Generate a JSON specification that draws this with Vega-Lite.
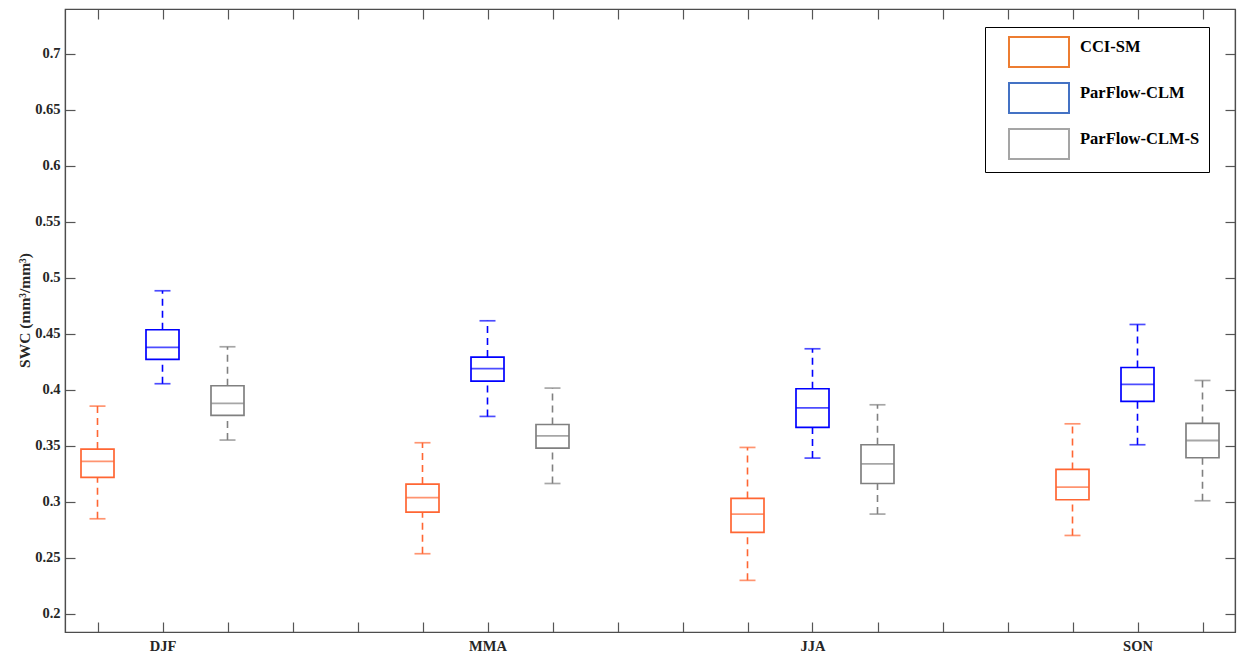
{
  "$schema": "https://vega.github.io/schema/vega-lite/v6.json",
  "width": 1170,
  "height": 623,
  "autosize": {"type": "none"},
  "padding": {"left": 65, "top": 9, "right": 4, "bottom": 24},
  "background": "white",
  "config": {
    "view": {"stroke": "#4d4d4d", "strokeWidth": 1.2},
    "axis": {"grid": false, "labelFont": "Liberation Serif", "labelFontWeight": "bold", "labelFontSize": 14.5, "labelColor": "#262626", "titleFont": "Liberation Serif", "titleFontWeight": "bold", "titleColor": "#262626", "domainColor": "#4d4d4d", "domainWidth": 1.2, "tickColor": "#555555", "tickWidth": 1.2}
  },
  "data": {
    "values": [
      {"season": "DJF", "model": "CCI-SM", "pos": 1, "lo": 0.2848, "q1": 0.3217, "med": 0.336, "q3": 0.347, "hi": 0.3854},
      {"season": "DJF", "model": "ParFlow-CLM", "pos": 2, "lo": 0.4054, "q1": 0.4271, "med": 0.4378, "q3": 0.4536, "hi": 0.4884},
      {"season": "DJF", "model": "ParFlow-CLM-S", "pos": 3, "lo": 0.3551, "q1": 0.3771, "med": 0.3878, "q3": 0.4036, "hi": 0.4384},
      {"season": "MMA", "model": "CCI-SM", "pos": 6, "lo": 0.2536, "q1": 0.2908, "med": 0.3036, "q3": 0.3158, "hi": 0.3527},
      {"season": "MMA", "model": "ParFlow-CLM", "pos": 7, "lo": 0.3762, "q1": 0.4077, "med": 0.4188, "q3": 0.4292, "hi": 0.4616},
      {"season": "MMA", "model": "ParFlow-CLM-S", "pos": 8, "lo": 0.3163, "q1": 0.3479, "med": 0.3589, "q3": 0.369, "hi": 0.4015},
      {"season": "JJA", "model": "CCI-SM", "pos": 11, "lo": 0.2298, "q1": 0.2726, "med": 0.289, "q3": 0.303, "hi": 0.3485},
      {"season": "JJA", "model": "ParFlow-CLM", "pos": 12, "lo": 0.339, "q1": 0.3664, "med": 0.3839, "q3": 0.4009, "hi": 0.4366},
      {"season": "JJA", "model": "ParFlow-CLM-S", "pos": 13, "lo": 0.289, "q1": 0.3163, "med": 0.3339, "q3": 0.3509, "hi": 0.3866},
      {"season": "SON", "model": "CCI-SM", "pos": 16, "lo": 0.2699, "q1": 0.3018, "med": 0.3131, "q3": 0.3289, "hi": 0.3696},
      {"season": "SON", "model": "ParFlow-CLM", "pos": 17, "lo": 0.3509, "q1": 0.3896, "med": 0.4048, "q3": 0.4199, "hi": 0.4583},
      {"season": "SON", "model": "ParFlow-CLM-S", "pos": 18, "lo": 0.3009, "q1": 0.3393, "med": 0.3547, "q3": 0.3699, "hi": 0.4083}
    ]
  },
  "resolve": {"axis": {"x": "independent", "y": "independent"}},
  "layer": [
    {
      "mark": {"type": "bar", "filled": false, "size": 33, "strokeWidth": 1.7},
      "encoding": {
        "x": {"field": "pos", "type": "quantitative", "scale": {"domain": [0.5, 18.5], "nice": false, "zero": false, "padding": 0},
              "axis": {"values": [1,2,3,4,5,6,7,8,9,10,11,12,13,14,15,16,17,18], "labelExpr": "datum.value == 2 ? 'DJF' : datum.value == 7 ? 'MMA' : datum.value == 12 ? 'JJA' : datum.value == 17 ? 'SON' : ''", "labelOverlap": false, "tickSize": -10, "labelPadding": 17, "title": null}},
        "y": {"field": "q1", "type": "quantitative", "scale": {"domain": [0.1837, 0.74], "nice": false, "zero": false, "padding": 0},
              "axis": {"values": [0.2, 0.25, 0.3, 0.35, 0.4, 0.45, 0.5, 0.55, 0.6, 0.65, 0.7], "format": ".2~f", "tickSize": -10, "labelPadding": 15, "title": "SWC (mm³/mm³)", "titleFontSize": 15.5, "titleX": -33, "titleY": 301, "titleAngle": -90}},
        "y2": {"field": "q3"},
        "color": {"field": "model", "type": "nominal",
                  "scale": {"range": ["#FF6633", "#0000FF", "#808080"]},
                  "legend": null}
      }
    },
    {
      "mark": {"type": "bar", "filled": false, "size": 33, "opacity": 0},
      "encoding": {
        "x": {"field": "pos", "type": "quantitative", "axis": null},
        "y": {"field": "q1", "type": "quantitative", "axis": null},
        "y2": {"field": "q3"},
        "stroke": {"field": "model", "type": "nominal",
                  "scale": {"domain": ["CCI-SM", "ParFlow-CLM", "ParFlow-CLM-S"], "range": ["#ED7D31", "#4472C4", "#A5A5A5"]},
                  "legend": {"title": null, "orient": "none", "legendX": 920, "legendY": 18, "padding": 9, "fillColor": "white", "strokeColor": "#000000", "symbolType": "M-2,-1H2V1H-2Z", "symbolSize": 900, "symbolOffset": 29, "rowPadding": 8, "labelOffset": 25, "labelFont": "Liberation Serif", "labelFontWeight": "bold", "labelFontSize": 16.5, "labelColor": "#000000", "labelBaseline": "alphabetic", "symbolStrokeWidth": 2, "symbolOpacity": 1, "symbolFillColor": "white",
                    "encode": {"legend": {"strokeWidth": {"value": 1.5}},
                               "symbols": {"fill": {"value": "white"}, "strokeWidth": {"value": 2}, "opacity": {"value": 1}}}}}
      }
    },
    {
      "mark": {"type": "rule", "strokeWidth": 1.6, "strokeDash": [7, 5]},
      "encoding": {
        "x": {"field": "pos", "type": "quantitative", "axis": null},
        "y": {"field": "lo", "type": "quantitative", "axis": null},
        "y2": {"field": "q1"},
        "color": {"field": "model", "type": "nominal", "legend": null}
      }
    },
    {
      "mark": {"type": "rule", "strokeWidth": 1.6, "strokeDash": [7, 5]},
      "encoding": {
        "x": {"field": "pos", "type": "quantitative", "axis": null},
        "y": {"field": "q3", "type": "quantitative", "axis": null},
        "y2": {"field": "hi"},
        "color": {"field": "model", "type": "nominal", "legend": null}
      }
    },
    {
      "mark": {"type": "tick", "orient": "horizontal", "size": 33, "thickness": 1.8},
      "encoding": {
        "x": {"field": "pos", "type": "quantitative",
              "axis": {"orient": "top", "values": [1,2,3,4,5,6,7,8,9,10,11,12,13,14,15,16,17,18], "labels": false, "tickSize": -10, "title": null}},
        "y": {"field": "med", "type": "quantitative",
              "axis": {"orient": "right", "values": [0.2, 0.25, 0.3, 0.35, 0.4, 0.45, 0.5, 0.55, 0.6, 0.65, 0.7], "labels": false, "tickSize": -10, "title": null}},
        "color": {"field": "model", "type": "nominal", "legend": null}
      }
    },
    {
      "mark": {"type": "tick", "orient": "horizontal", "size": 16, "thickness": 1.7},
      "encoding": {
        "x": {"field": "pos", "type": "quantitative", "axis": null},
        "y": {"field": "lo", "type": "quantitative", "axis": null},
        "color": {"field": "model", "type": "nominal", "legend": null}
      }
    },
    {
      "mark": {"type": "tick", "orient": "horizontal", "size": 16, "thickness": 1.7},
      "encoding": {
        "x": {"field": "pos", "type": "quantitative", "axis": null},
        "y": {"field": "hi", "type": "quantitative", "axis": null},
        "color": {"field": "model", "type": "nominal", "legend": null}
      }
    }
  ]
}
